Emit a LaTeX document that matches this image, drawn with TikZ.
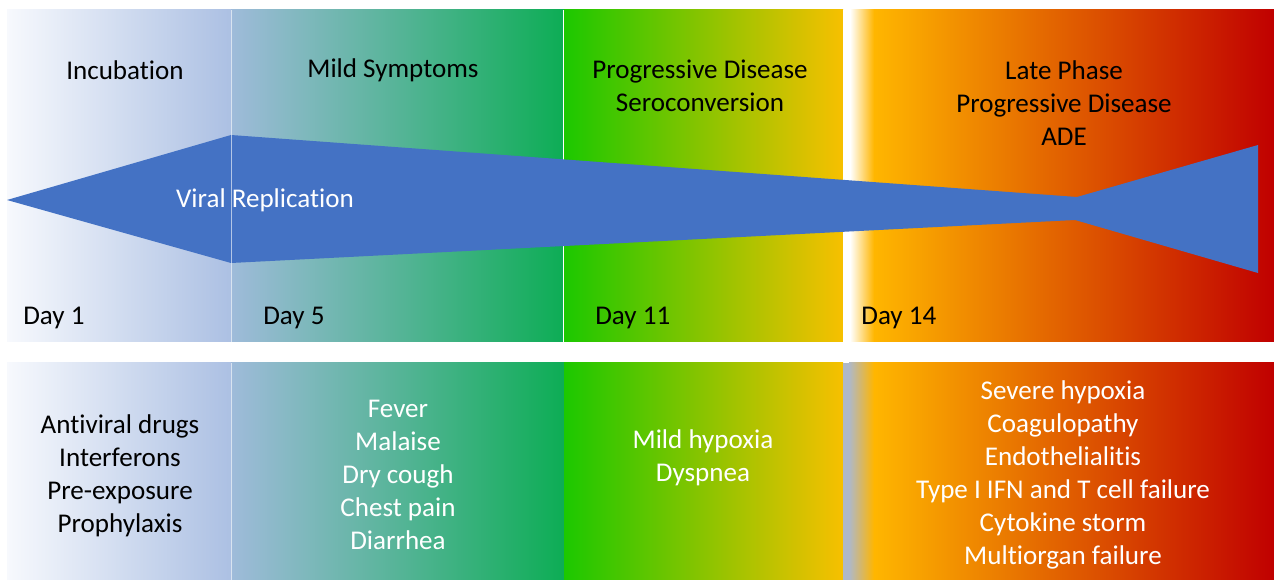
\documentclass[tikz,border=0pt]{standalone}
\usepackage{fontspec}
\setmainfont{Carlito}[Ligatures=NoCommon]
\usetikzlibrary{positioning}

\definecolor{virusblue}{HTML}{4472C4}
\definecolor{incleft}{HTML}{F7F9FD}
\definecolor{incright}{HTML}{ACC0E3}
\definecolor{mildleft}{HTML}{9FBBDA}
\definecolor{mildmid}{HTML}{62B8A0}
\definecolor{mildright}{HTML}{0DAD55}
\definecolor{progleft}{HTML}{1CC800}
\definecolor{progmid}{HTML}{8EC400}
\definecolor{progright}{HTML}{F7C000}
\definecolor{lateleft}{HTML}{FFB600}
\definecolor{latemid}{HTML}{E47200}
\definecolor{lateright}{HTML}{C00000}
\definecolor{seamgrey}{HTML}{AFB8C8}

\begin{document}
\begin{tikzpicture}[x=0.02cm, y=-0.02cm,
    phase/.style={font=\fontsize{15.4}{18.8}\selectfont, align=center, text=black, inner sep=0pt},
    effect/.style={font=\fontsize{15.4}{18.8}\selectfont, align=center, inner sep=0pt},
    day/.style={font=\fontsize{15.4}{18.8}\selectfont, anchor=west, inner sep=0pt},
    divider/.style={draw=white, line width=0.7pt},
]
\useasboundingbox (0,0) rectangle (1274,580);

\shade[left color=incleft, right color=incright] (7,10) rectangle (231,342);
\shade[left color=mildleft, middle color=mildmid, right color=mildright] (231,10) rectangle (564,342);
\shade[left color=progleft, middle color=progmid, right color=progright] (564,10) rectangle (843,342);
\fill[white] (843,10) rectangle (850,342);
\shade[left color=white, right color=lateleft] (850,10) rectangle (874,342);
\shade[left color=lateleft, middle color=latemid, right color=lateright] (874,10) rectangle (1274,342);

\shade[left color=incleft, right color=incright] (7,363) rectangle (231,580);
\shade[left color=mildleft, middle color=mildmid, right color=mildright] (231,363) rectangle (564,580);
\shade[left color=progleft, middle color=progmid, right color=progright] (564,363) rectangle (843,580);
\fill[seamgrey] (843,363) rectangle (849,580);
\shade[left color=seamgrey, right color=lateleft] (849,363) rectangle (874,580);
\shade[left color=lateleft, middle color=latemid, right color=lateright] (874,363) rectangle (1274,580);

\draw[divider] (563.5,10) -- (563.5,342);

\fill[virusblue] (7,200) -- (231,135) -- (1077,197) -- (1258,145)
    -- (1258,273) -- (1075,220) -- (231,263) -- cycle;

\draw[divider, draw opacity=0.6] (231.5,10) -- (231.5,342);
\draw[divider, draw opacity=0.6] (231.5,363) -- (231.5,580);

\node[phase] (incubation) at (125,70) {Incubation};
\node[phase] (mild) at (393,70) {Mild Symptoms};
\node[phase] (progressive) at (700,86) {Progressive Disease\\Seroconversion};
\node[phase] (late) at (1064,103) {Late Phase\\Progressive Disease\\ADE};
\node[effect, text=white] (replication) at (265,200) {Viral Replication};

\node[day] (day1) at (23,318) {Day 1};
\node[day] (day5) at (263,318) {Day 5};
\node[day] (day11) at (595,318) {Day 11};
\node[day] (day14) at (861,318) {Day 14};

\node[effect, text=black] (treatment) at (120,476) {Antiviral drugs\\Interferons\\Pre-exposure\\Prophylaxis};
\node[effect, text=white] (mildsigns) at (398,475) {Fever\\Malaise\\Dry cough\\Chest pain\\Diarrhea};
\node[effect, text=white] (progsigns) at (703,458) {Mild hypoxia\\Dyspnea};
\node[effect, text=white] (latesigns) at (1063,475) {Severe hypoxia\\Coagulopathy\\Endothelialitis\\Type I IFN and T cell failure\\Cytokine storm\\Multiorgan failure};
\end{tikzpicture}
\end{document}
